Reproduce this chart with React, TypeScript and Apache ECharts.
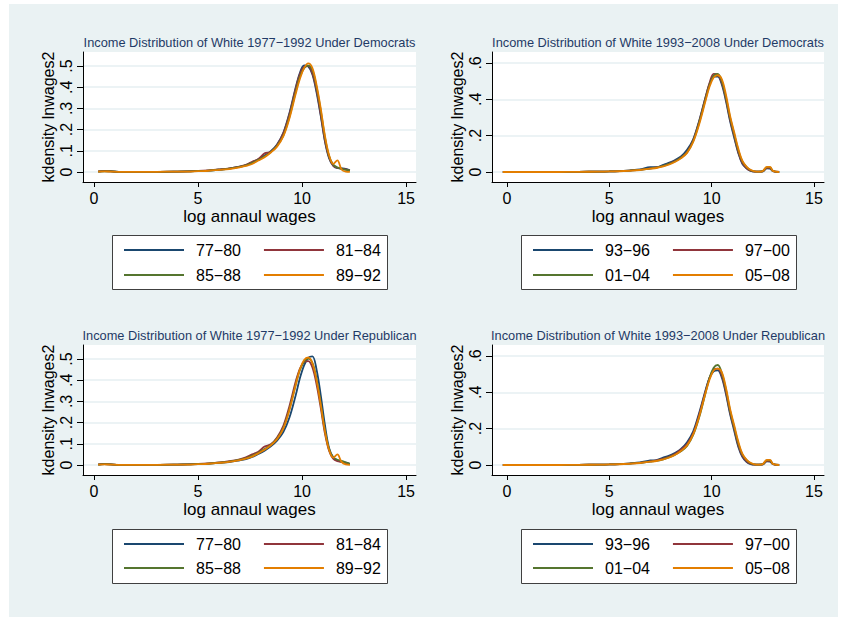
import React, { useEffect, useRef } from 'react';
import * as echarts from 'echarts';

// ---------- data ----------
const periodsEarly = ['77−80', '81−84', '85−88', '89−92'];
const periodsLate = ['93−96', '97−00', '01−04', '05−08'];
const titles = [
  'Income Distribution of White 1977−1992 Under Democrats',
  'Income Distribution of White 1993−2008 Under Democrats',
  'Income Distribution of White 1977−1992 Under Republican',
  'Income Distribution of White 1993−2008 Under Republican',
];
const xTickValues = [0, 5, 10, 15];
const yTicksEarly = [0, 0.1, 0.2, 0.3, 0.4, 0.5];
const yTicksLate = [0, 0.2, 0.4, 0.6];
const xAxisTitle = 'log annaul wages';
const yAxisTitle = 'kdensity lnwages2';

// log wage grid, 1977-1992 panels
const xEarly = [0.2, 0.5, 0.8, 1.2, 2, 3, 4, 4.5, 5, 5.5, 6, 6.5, 7, 7.3, 7.6, 7.9, 8.2, 8.5, 8.8, 9.1, 9.4, 9.7, 9.9, 10.1, 10.3, 10.5, 10.7, 10.9, 11.1, 11.3, 11.5, 11.7, 11.9, 12.1, 12.3];
// log wage grid, 1993-2008 panels
const xLate = [-0.2, 0.5, 1.5, 2.5, 3.5, 4.5, 5, 5.5, 6, 6.5, 7, 7.3, 7.6, 7.9, 8.2, 8.5, 8.8, 9.1, 9.4, 9.7, 9.9, 10.1, 10.3, 10.5, 10.7, 10.9, 11.1, 11.3, 11.5, 11.7, 11.9, 12.1, 12.3, 12.5, 12.7, 12.85, 13.0, 13.3];

// Democrats 1977-1992
const dem77_80 = [0.002, 0.005, 0.004, 0.001, 0.001, 0.001, 0.002, 0.003, 0.005, 0.007, 0.011, 0.016, 0.025, 0.033, 0.045, 0.06, 0.078, 0.098, 0.13, 0.185, 0.28, 0.4, 0.468, 0.503, 0.498, 0.46, 0.375, 0.265, 0.145, 0.065, 0.03, 0.018, 0.017, 0.015, 0.008];
const dem81_84 = [0.003, 0.004, 0.003, 0.001, 0.001, 0.001, 0.002, 0.003, 0.005, 0.008, 0.012, 0.017, 0.026, 0.034, 0.048, 0.062, 0.088, 0.096, 0.128, 0.182, 0.275, 0.395, 0.462, 0.497, 0.5, 0.465, 0.385, 0.272, 0.15, 0.07, 0.03, 0.02, 0.016, 0.012, 0.006];
const dem85_88 = [0.002, 0.003, 0.003, 0.001, 0.001, 0.001, 0.002, 0.003, 0.005, 0.007, 0.011, 0.016, 0.024, 0.031, 0.043, 0.058, 0.074, 0.094, 0.124, 0.172, 0.262, 0.38, 0.45, 0.49, 0.502, 0.48, 0.4, 0.29, 0.165, 0.075, 0.035, 0.022, 0.016, 0.01, 0.008];
const dem89_92 = [0.002, 0.003, 0.002, 0.001, 0.001, 0.001, 0.002, 0.002, 0.004, 0.006, 0.01, 0.014, 0.022, 0.029, 0.038, 0.054, 0.07, 0.092, 0.12, 0.168, 0.255, 0.37, 0.44, 0.49, 0.512, 0.49, 0.41, 0.3, 0.172, 0.08, 0.038, 0.055, 0.012, 0.002, 0.001];

// Democrats 1993-2008
const dem93_96 = [0, 0, 0, 0, 0.001, 0.002, 0.003, 0.005, 0.009, 0.014, 0.026, 0.026, 0.038, 0.05, 0.065, 0.085, 0.122, 0.18, 0.285, 0.41, 0.485, 0.525, 0.525, 0.48, 0.39, 0.28, 0.19, 0.105, 0.045, 0.02, 0.006, 0.002, 0.002, 0.004, 0.02, 0.018, 0.004, 0];
const dem97_00 = [0, 0, 0, 0, 0.001, 0.002, 0.003, 0.005, 0.008, 0.012, 0.02, 0.025, 0.033, 0.045, 0.06, 0.08, 0.11, 0.175, 0.28, 0.41, 0.49, 0.54, 0.535, 0.49, 0.4, 0.29, 0.2, 0.11, 0.05, 0.022, 0.007, 0.002, 0.002, 0.004, 0.022, 0.022, 0.005, 0];
const dem01_04 = [0, 0, 0, 0, 0.001, 0.002, 0.003, 0.005, 0.008, 0.012, 0.019, 0.024, 0.032, 0.044, 0.058, 0.078, 0.108, 0.17, 0.275, 0.4, 0.48, 0.53, 0.54, 0.5, 0.41, 0.3, 0.21, 0.12, 0.058, 0.028, 0.01, 0.003, 0.002, 0.005, 0.025, 0.025, 0.006, 0];
const dem05_08 = [0, 0, 0, 0, 0.001, 0.002, 0.003, 0.004, 0.007, 0.011, 0.018, 0.022, 0.03, 0.04, 0.055, 0.075, 0.105, 0.165, 0.265, 0.39, 0.47, 0.52, 0.532, 0.51, 0.425, 0.31, 0.22, 0.13, 0.062, 0.03, 0.012, 0.004, 0.002, 0.006, 0.028, 0.028, 0.006, 0];

// Republican 1977-1992
const rep77_80 = [0.002, 0.005, 0.003, 0.001, 0.001, 0.001, 0.002, 0.003, 0.004, 0.006, 0.01, 0.014, 0.022, 0.028, 0.038, 0.052, 0.068, 0.088, 0.115, 0.155, 0.225, 0.33, 0.41, 0.47, 0.505, 0.512, 0.45, 0.33, 0.19, 0.08, 0.035, 0.022, 0.015, 0.012, 0.006];
const rep81_84 = [0.003, 0.004, 0.003, 0.001, 0.001, 0.001, 0.002, 0.003, 0.005, 0.008, 0.012, 0.018, 0.027, 0.036, 0.05, 0.063, 0.087, 0.098, 0.13, 0.185, 0.28, 0.395, 0.455, 0.485, 0.49, 0.46, 0.38, 0.27, 0.15, 0.068, 0.03, 0.018, 0.015, 0.008, 0.003];
const rep85_88 = [0.002, 0.004, 0.003, 0.001, 0.001, 0.001, 0.002, 0.003, 0.005, 0.007, 0.011, 0.016, 0.025, 0.032, 0.044, 0.058, 0.075, 0.095, 0.125, 0.175, 0.265, 0.38, 0.448, 0.488, 0.502, 0.482, 0.405, 0.29, 0.165, 0.075, 0.037, 0.025, 0.02, 0.012, 0.006];
const rep89_92 = [0.002, 0.003, 0.002, 0.001, 0.001, 0.001, 0.002, 0.002, 0.004, 0.006, 0.01, 0.015, 0.023, 0.03, 0.04, 0.055, 0.072, 0.093, 0.122, 0.172, 0.262, 0.38, 0.452, 0.495, 0.507, 0.48, 0.4, 0.285, 0.16, 0.072, 0.035, 0.05, 0.015, 0.003, 0.001];

// Republican 1993-2008
const rep93_96 = [0, 0, 0, 0, 0.001, 0.002, 0.003, 0.005, 0.009, 0.014, 0.025, 0.027, 0.04, 0.05, 0.066, 0.088, 0.125, 0.185, 0.29, 0.41, 0.48, 0.515, 0.52, 0.48, 0.39, 0.28, 0.19, 0.1, 0.045, 0.018, 0.005, 0.002, 0.002, 0.004, 0.02, 0.018, 0.004, 0];
const rep97_00 = [0, 0, 0, 0, 0.001, 0.002, 0.003, 0.005, 0.008, 0.012, 0.02, 0.025, 0.034, 0.045, 0.06, 0.085, 0.115, 0.175, 0.28, 0.405, 0.48, 0.525, 0.53, 0.49, 0.4, 0.29, 0.2, 0.11, 0.05, 0.022, 0.007, 0.002, 0.002, 0.004, 0.022, 0.022, 0.005, 0];
const rep01_04 = [0, 0, 0, 0, 0.001, 0.002, 0.003, 0.005, 0.008, 0.012, 0.019, 0.023, 0.03, 0.042, 0.056, 0.075, 0.105, 0.165, 0.265, 0.395, 0.48, 0.535, 0.55, 0.505, 0.415, 0.3, 0.21, 0.12, 0.058, 0.028, 0.01, 0.003, 0.002, 0.005, 0.025, 0.025, 0.006, 0];
const rep05_08 = [0, 0, 0, 0, 0.001, 0.002, 0.003, 0.004, 0.007, 0.011, 0.018, 0.022, 0.03, 0.04, 0.055, 0.077, 0.108, 0.168, 0.27, 0.395, 0.47, 0.52, 0.53, 0.51, 0.425, 0.31, 0.22, 0.13, 0.062, 0.03, 0.012, 0.004, 0.002, 0.006, 0.028, 0.028, 0.006, 0];

// ---------- styling / layout ----------
const lineColors = ['#1a476f', '#90353b', '#55752f', '#e37e00'];
const FONT = '"Liberation Sans", Arial, Helvetica, sans-serif';
const TITLE_COLOR = '#1f3a66';
const GRID_LINE = '#e6eff2';

type Panel = {
  title: string;
  names: string[];
  x: number[];
  ys: number[][];
  grid: { left: number; top: number; width: number; height: number };
  xMin: number; xMax: number; yMin: number; yMax: number;
  yTicks: number[];
  legendBox: { x: number; y: number; w: number; h: number };
  legendLeft: number;
  rows: number[];
};

const panels: Panel[] = [
  {
    title: titles[0], names: periodsEarly, x: xEarly, ys: [dem77_80, dem81_84, dem85_88, dem89_92],
    grid: { left: 83, top: 52, width: 333, height: 130 },
    xMin: -0.53, xMax: 15.48, yMin: -0.047, yMax: 0.566, yTicks: yTicksEarly,
    legendBox: { x: 112, y: 235, w: 275, h: 54 }, legendLeft: 119, rows: [251, 276],
  },
  {
    title: titles[1], names: periodsLate, x: xLate, ys: [dem93_96, dem97_00, dem01_04, dem05_08],
    grid: { left: 492, top: 52, width: 332, height: 130 },
    xMin: -0.73, xMax: 15.49, yMin: -0.055, yMax: 0.66, yTicks: yTicksLate,
    legendBox: { x: 521, y: 235, w: 275, h: 54 }, legendLeft: 528, rows: [251, 276],
  },
  {
    title: titles[2], names: periodsEarly, x: xEarly, ys: [rep77_80, rep81_84, rep85_88, rep89_92],
    grid: { left: 83, top: 345, width: 333, height: 130 },
    xMin: -0.53, xMax: 15.48, yMin: -0.047, yMax: 0.566, yTicks: yTicksEarly,
    legendBox: { x: 112, y: 529, w: 275, h: 54 }, legendLeft: 119, rows: [545, 569],
  },
  {
    title: titles[3], names: periodsLate, x: xLate, ys: [rep93_96, rep97_00, rep01_04, rep05_08],
    grid: { left: 492, top: 345, width: 332, height: 130 },
    xMin: -0.73, xMax: 15.49, yMin: -0.055, yMax: 0.66, yTicks: yTicksLate,
    legendBox: { x: 521, y: 529, w: 275, h: 54 }, legendLeft: 528, rows: [545, 569],
  },
];

const fmtY = (v: number) => (v === 0 ? '0' : v.toFixed(1).replace(/^0\./, '.'));

function buildOption() {
  const grid: any[] = [];
  const xAxis: any[] = [];
  const yAxis: any[] = [];
  const series: any[] = [];
  const legend: any[] = [];
  const graphic: any[] = [];

  panels.forEach((p, pi) => {
    grid.push({ ...p.grid, show: true, backgroundColor: '#ffffff', borderWidth: 0, containLabel: false });
    xAxis.push({
      type: 'value', gridIndex: pi, min: p.xMin, max: p.xMax,
      name: xAxisTitle, nameLocation: 'middle', nameGap: 26,
      nameTextStyle: { fontFamily: FONT, fontSize: 17, color: '#000' },
      axisLine: { show: true, onZero: false, lineStyle: { color: '#000', width: 1 } },
      axisTick: { show: true, length: 5, customValues: xTickValues, lineStyle: { color: '#000' } },
      axisLabel: { customValues: xTickValues, margin: 8, fontFamily: FONT, fontSize: 16, color: '#000' },
      splitLine: { show: false },
    });
    yAxis.push({
      type: 'value', gridIndex: pi, min: p.yMin, max: p.yMax,
      name: yAxisTitle, nameLocation: 'middle', nameGap: 27,
      nameTextStyle: { fontFamily: FONT, fontSize: 16, color: '#000' },
      axisLine: { show: true, onZero: false, lineStyle: { color: '#000', width: 1 } },
      axisTick: { show: true, length: 6, customValues: p.yTicks, lineStyle: { color: '#000' } },
      axisLabel: {
        customValues: p.yTicks, rotate: 90, margin: 9, fontFamily: FONT, fontSize: 16, color: '#000',
        formatter: (v: number) => fmtY(v),
      },
      splitLine: { show: true, lineStyle: { color: GRID_LINE, width: 1.5 } },
    });
    p.ys.forEach((ys, si) => {
      series.push({
        type: 'line', name: p.names[si], xAxisIndex: pi, yAxisIndex: pi,
        data: p.x.map((xv, i) => [xv, ys[i]]),
        showSymbol: false, symbol: 'none', smooth: 0.35,
        lineStyle: { color: lineColors[si], width: 1.8 },
        itemStyle: { color: lineColors[si] },
        z: 2 + si,
      });
    });
    // legend rows (two per panel)
    [0, 1].forEach((r) => {
      legend.push({
        data: [p.names[r * 2], p.names[r * 2 + 1]],
        orient: 'horizontal', left: p.legendLeft, top: p.rows[r] - 14,
        icon: 'rect', itemWidth: 60, itemHeight: 2, itemGap: 23,
        textStyle: { fontFamily: FONT, fontSize: 16, color: '#000', padding: [0, 0, 0, 7] },
        selectedMode: false, z: 10,
      });
    });
    graphic.push({
      type: 'rect', z: 5,
      shape: { x: p.legendBox.x + 0.5, y: p.legendBox.y + 0.5, width: p.legendBox.w, height: p.legendBox.h },
      style: { fill: '#ffffff', stroke: '#404040', lineWidth: 1 },
    });
    graphic.push({
      type: 'text', z: 5,
      x: p.grid.left + p.grid.width / 2, y: p.grid.top - 10,
      style: {
        text: p.title, textAlign: 'center', textVerticalAlign: 'middle',
        fontFamily: FONT, fontSize: 12.8, fill: TITLE_COLOR,
      },
    });
  });

  return {
    animation: false,
    backgroundColor: 'transparent',
    grid, xAxis, yAxis, series, legend, graphic,
  };
}

export default function App() {
  const ref = useRef<HTMLDivElement>(null);
  useEffect(() => {
    if (!ref.current) return;
    const chart = echarts.init(ref.current, undefined, { renderer: 'svg' });
    chart.setOption(buildOption());
    return () => chart.dispose();
  }, []);
  return (
    <div style={{ position: 'fixed', left: 0, top: 0, width: 846, height: 617, background: '#ffffff' }}>
      <div style={{ position: 'absolute', left: 9, top: 4, width: 829, height: 613, background: '#eaf2f3' }} />
      <div ref={ref} style={{ position: 'absolute', left: 0, top: 0, width: 846, height: 617 }} />
    </div>
  );
}
